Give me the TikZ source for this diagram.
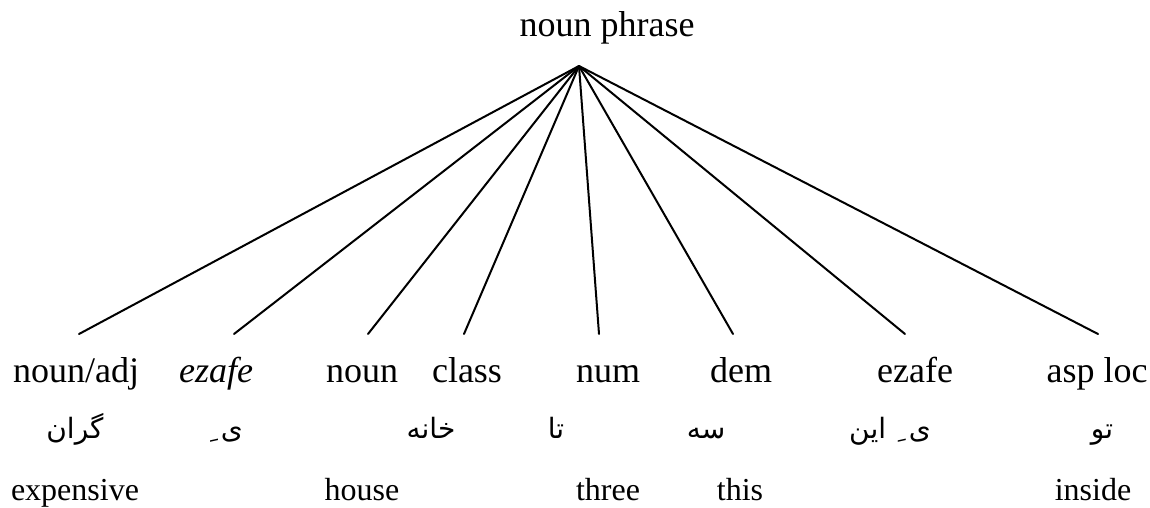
\documentclass[tikz,border=0pt]{standalone}
\usepackage{fontspec}
\setmainfont{Liberation Serif}
\newfontfamily\arabicfont[Script=Arabic]{DejaVu Sans}
\TeXXeTstate=1
\begin{document}
\begin{tikzpicture}[x=1pt,y=-1pt,
  lbl/.style={anchor=base,inner sep=0pt,font=\fontsize{36}{40}\selectfont},
  gloss/.style={anchor=base,inner sep=0pt,font=\fontsize{32}{36}\selectfont},
  per/.style={anchor=base,inner sep=0pt,font=\arabicfont\fontsize{28}{32}\selectfont},
  branch/.style={line width=2pt,line cap=round}]
\useasboundingbox (0,0) rectangle (1150,508);
% root
\node[lbl] (root) at (607,37) {noun phrase};
\coordinate (apex) at (579,66);
% branch ends
\coordinate (e1) at (79,334);
\coordinate (e2) at (234,334);
\coordinate (e3) at (368,334);
\coordinate (e4) at (464,334);
\coordinate (e5) at (599,334);
\coordinate (e6) at (733,334);
\coordinate (e7) at (905,334);
\coordinate (e8) at (1098,334);
\foreach \i in {1,...,8} \draw[branch] (apex) -- (e\i);
% category labels
\node[lbl] (c1) at (76,382) {noun/adj};
\node[lbl] (c2) at (216,382) {\itshape ezafe};
\node[lbl] (c3) at (362,382) {noun};
\node[lbl] (c4) at (467,382) {class};
\node[lbl] (c5) at (608,382) {num};
\node[lbl] (c6) at (741,382) {dem};
\node[lbl] (c7) at (915,382) {ezafe};
\node[lbl] (c8) at (1097,382) {asp loc};
% Persian words
\node[per] (p1) at (75,438) {\beginR گران\endR};
\node[per] (p2) at (225,438) {\beginR ی\hspace{5pt} ِ\endR};
\node[per] (p3) at (431,438) {\beginR خانه\endR};
\node[per] (p4) at (556,438) {\beginR تا\endR};
\node[per] (p5) at (706,438) {\beginR سه\endR};
\node[per] (p6) at (890,438) {\beginR ی\hspace{5pt} ِ این\endR};
\node[per] (p7) at (1102,438) {\beginR تو\endR};
% glosses
\node[gloss] (g1) at (75,500) {expensive};
\node[gloss] (g2) at (362,500) {house};
\node[gloss] (g3) at (608,500) {three};
\node[gloss] (g4) at (740,500) {this};
\node[gloss] (g5) at (1093,500) {inside};
\end{tikzpicture}
\end{document}
